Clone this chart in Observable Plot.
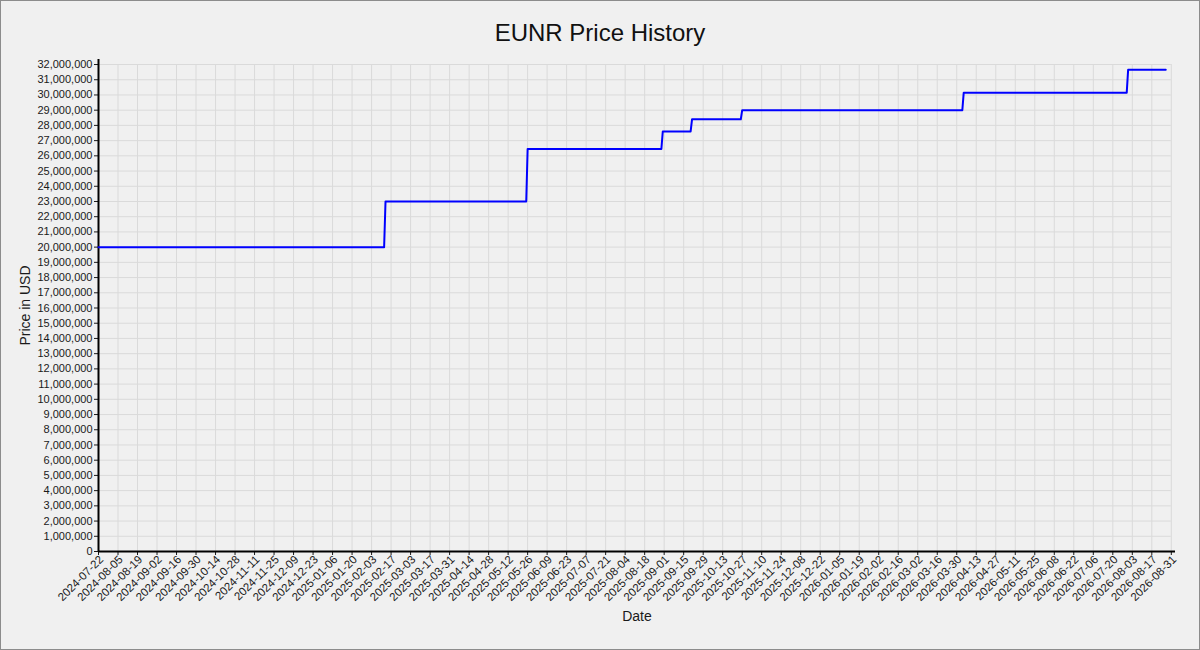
<!DOCTYPE html>
<html>
<head>
<meta charset="utf-8">
<script src="https://cdn.jsdelivr.net/npm/d3@7"></script>
<script src="https://cdn.jsdelivr.net/npm/@observablehq/plot@0.6"></script>
<style>
  body { margin: 0; background: #f0f0f0; }
  #wrap { position: relative; width: 1200px; height: 650px; font-family: "Liberation Sans", Arial, sans-serif; }
  #chart { position: absolute; left: 0; top: 0; }
  #title { position: absolute; left: 0; top: 21px; width: 1200px; text-align: center; font-size: 24px; line-height: 24px; color: #111; }
  #border { position: absolute; left: 0; top: 0; right: 0; bottom: 0; border: 1px solid #8c8c8c; pointer-events: none; }
</style>
</head>
<body>
<div id="wrap">
  <div id="chart"></div>
  <div id="title">EUNR Price History</div>
  <div id="border"></div>
</div>
<script>
// puntos del historial (día anterior y día del cambio)
const dates = [
  "2024-07-22", "2025-02-12", "2025-02-13", "2025-05-25", "2025-05-26",
  "2025-08-30", "2025-08-31", "2025-09-20", "2025-09-21", "2025-10-26",
  "2025-10-27", "2026-04-03", "2026-04-04", "2026-07-30", "2026-07-31",
  "2026-08-27"
]
const prices = [
  20000000, 20000000, 23000000, 23000000, 26450000,
  26450000, 27600000, 27600000, 28400000, 28400000,
  29000000, 29000000, 30150000, 30150000, 31650000,
  31650000
]
const data = dates.map((d, i) => ({ date: new Date(d), price: prices[i] }))

const xStart = new Date("2024-07-22")
const xEnd = new Date("2026-09-03")
const yMax = 32330000
// ticks cada dos semanas y cada millón
const xTicks = d3.range(56).map(i => d3.utcDay.offset(xStart, 14 * i))
const yTicks = d3.range(0, 32000001, 1000000)

let chart = Plot.plot({
  width: 1200,
  height: 650,
  marginLeft: 98,
  marginRight: 25,
  marginTop: 59,
  marginBottom: 99,
  style: { background: "transparent", fontFamily: "'Liberation Sans', Arial, sans-serif", fontSize: "11px", color: "#1a1a1a" },
  x: { type: "utc", domain: [xStart, xEnd] },
  y: { domain: [0, yMax] },
  marks: [
    Plot.ruleX(xTicks, { x: d => d, y1: 0, y2: 32000000, stroke: "#dadada", strokeWidth: 1 }),
    Plot.ruleY(yTicks, { y: d => d, x1: xStart, x2: xTicks[xTicks.length - 1], stroke: "#dadada", strokeWidth: 1 }),
    // marcas de tick y etiquetas por separado
    Plot.axisX({ ticks: xTicks, tickFormat: () => "", tickSize: 4, label: null }),
    Plot.axisX({ ticks: xTicks, tickFormat: d3.utcFormat("%Y-%m-%d"), tickRotate: -45, tickSize: 0, tickPadding: 6, label: null, fontSize: 11.5, dx: 3 }),
    Plot.axisY({ ticks: yTicks, tickFormat: d3.format(","), tickSize: 4, tickPadding: 2, label: null, fontSize: 11 }),
    Plot.ruleX([xStart], { stroke: "black", strokeWidth: 2 }),
    Plot.ruleY([0], { stroke: "black", strokeWidth: 2 }),
    Plot.line(data, { x: "date", y: "price", stroke: "#0000ff", strokeWidth: 2 }),
    Plot.text(["Date"], { text: d => d, frameAnchor: "bottom", dy: 65, lineAnchor: "middle", fontSize: 14 }),
    Plot.text(["Price in USD"], { text: d => d, frameAnchor: "left", dx: -73, rotate: -90, textAnchor: "middle", fontSize: 14 })
  ]
})

d3.select('#chart').append(() => chart)
</script>
</body>
</html>
